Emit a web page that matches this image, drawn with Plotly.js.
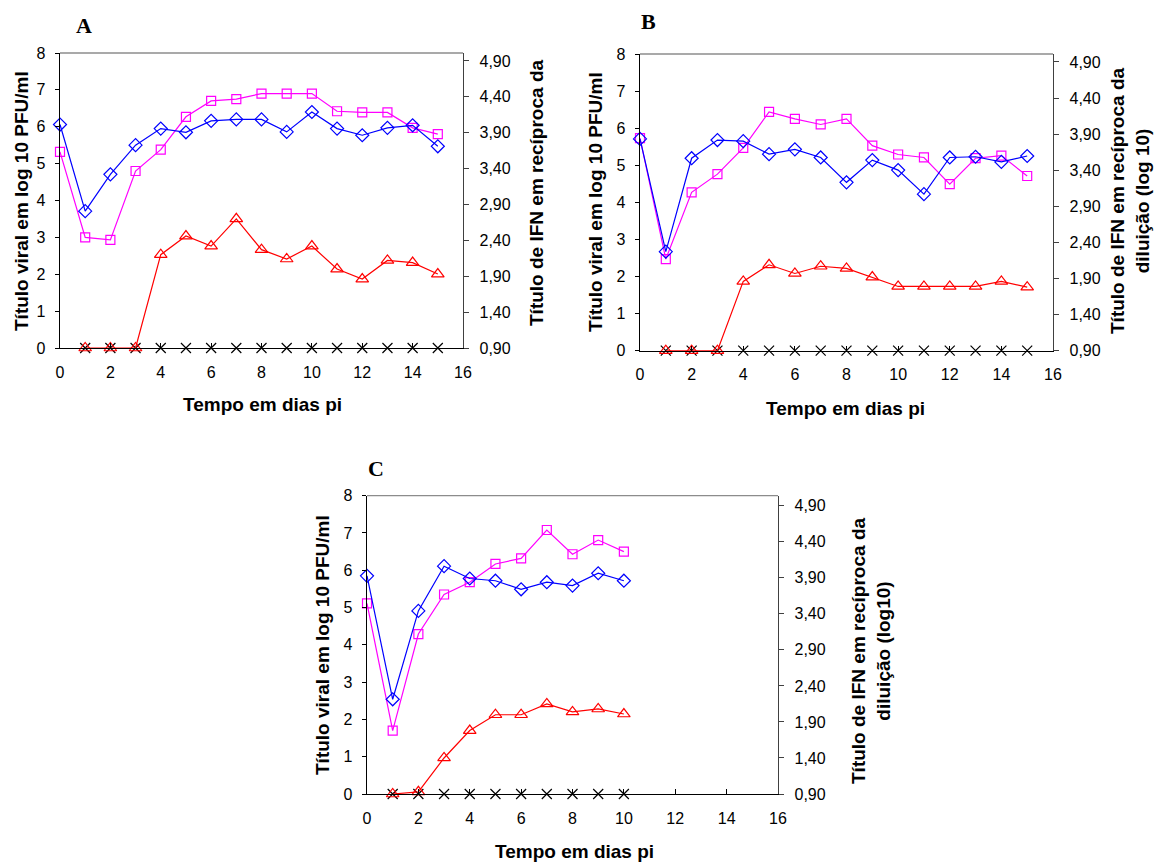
<!DOCTYPE html>
<html>
<head>
<meta charset="utf-8">
<script src="https://cdn.plot.ly/plotly-3.0.1.min.js"></script>
<style>html,body{margin:0;padding:0;background:#fff;}#chart{width:1160px;height:863px;}</style>
</head>
<body>
<div id="chart"></div>
<script>
// ---------- DATA ----------
const daysA = [0,1,2,3,4,5,6,7,8,9,10,11,12,13,14,15];
const blueA = [6.06,3.71,4.71,5.50,5.95,5.85,6.16,6.20,6.20,5.86,6.40,5.95,5.77,5.97,6.04,5.47];
const magA  = [5.32,3.00,2.93,4.80,5.38,6.27,6.70,6.75,6.90,6.90,6.90,6.42,6.39,6.39,5.97,5.80];
const ifnDaysA = [1,2,3,4,5,6,7,8,9,10,11,12,13,14,15];
const ifnA  = [0.90,0.90,0.90,2.20,2.46,2.32,2.70,2.27,2.14,2.32,2.00,1.86,2.12,2.09,1.93];
const ctrlA = [0,0,0,0,0,0,0,0,0,0,0,0,0,0,0];

const daysB = [0,1,2,3,4,5,6,7,8,9,10,11,12,13,14,15];
const blueB = [5.71,2.67,5.19,5.68,5.65,5.30,5.43,5.21,4.54,5.14,4.87,4.22,5.21,5.23,5.09,5.25];
const magB  = [5.73,2.47,4.27,4.76,5.47,6.44,6.25,6.10,6.25,5.53,5.29,5.21,4.49,5.19,5.26,4.71];
const ifnDaysB = [1,2,3,4,5,6,7,8,9,10,11,12,13,14,15];
const ifnB  = [0.90,0.90,0.90,1.86,2.09,1.97,2.07,2.04,1.92,1.79,1.79,1.79,1.79,1.86,1.78];
const ctrlB = [0,0,0,0,0,0,0,0,0,0,0,0,0,0,0];

const daysC = [0,1,2,3,4,5,6,7,8,9,10];
const blueC = [5.85,2.54,4.91,6.11,5.78,5.72,5.49,5.68,5.59,5.92,5.72];
const magC  = [5.11,1.70,4.29,5.35,5.68,6.17,6.32,7.08,6.43,6.81,6.50];
const ifnDaysC = [1,2,3,4,5,6,7,8,9,10];
const ifnC  = [0.90,0.93,1.40,1.78,2.00,2.00,2.15,2.04,2.08,2.01];
const ctrlC = [0,0,0,0,0,0,0,0,0,0];

const xTitle = "Tempo em dias pi";
const yLeftTitle = "Título viral em log 10 PFU/ml";
const yRightTitleA = "Título de IFN em recíproca da";
const yRightTitleB = "Título de IFN em recíproca da<br>diluição (log 10)";
const yRightTitleC = "Título de IFN em recíproca da<br>diluição (log10)";
const panelLabels = ["A","B","C"];

// ---------- LAYOUT HELPERS ----------
const W = 1160, H = 863;
const px = v => v / W;
const py = v => 1 - v / H;

const panels = [
  {x0:60,  x1:463,  yt:53,    yb:348,  y2max:5.01},
  {x0:640, x1:1053, yt:54,    yb:350.7,y2max:5.01},
  {x0:367, x1:778,  yt:495.7, yb:794,  y2max:5.04}
];

const tickFont = {family:"Liberation Sans, Arial, sans-serif", size:16, color:"#000"};
const titleFont = {family:"Liberation Sans, Arial, sans-serif", size:19, color:"#000"};

const BLUE = "#0000ff", MAG = "#ff00ff", RED = "#ff0000";

function series(xs, ys, xa, ya, color, symbol, size, mode) {
  return {
    x: xs, y: ys, xaxis: xa, yaxis: ya, type: "scatter",
    mode: mode || "lines+markers", cliponaxis: false, hoverinfo: "x+y",
    line: {color: color, width: 1.2},
    marker: {symbol: symbol, size: size, color: color, line: {color: color, width: 1.2}}
  };
}

const data = [
  series(ifnDaysA.slice(), ctrlA, "x", "y", "#000", "x-thin-open", 10, "markers"),
  series(ifnDaysA, ifnA, "x", "y2", RED, "triangle-up-open", 11),
  series(daysA, magA, "x", "y", MAG, "square-open", 9),
  series(daysA, blueA, "x", "y", BLUE, "diamond-open", 10),

  series(ifnDaysB.slice(), ctrlB, "x2", "y3", "#000", "x-thin-open", 10, "markers"),
  series(ifnDaysB, ifnB, "x2", "y4", RED, "triangle-up-open", 11),
  series(daysB, magB, "x2", "y3", MAG, "square-open", 9),
  series(daysB, blueB, "x2", "y3", BLUE, "diamond-open", 10),

  series(ifnDaysC.slice(), ctrlC, "x3", "y5", "#000", "x-thin-open", 10, "markers"),
  series(ifnDaysC, ifnC, "x3", "y6", RED, "triangle-up-open", 11),
  series(daysC, magC, "x3", "y5", MAG, "square-open", 9),
  series(daysC, blueC, "x3", "y5", BLUE, "diamond-open", 10)
];

const layout = {
  width: W, height: H, margin: {l:0, r:0, t:0, b:0},
  paper_bgcolor: "#fff", plot_bgcolor: "#fff",
  showlegend: false, separators: ",.",
  font: tickFont,
  shapes: [], annotations: []
};

const xNames = ["xaxis","xaxis2","xaxis3"];
const xIds = ["x","x2","x3"];
const yL = [["yaxis","y"],["yaxis3","y3"],["yaxis5","y5"]];
const yR = [["yaxis2","y2"],["yaxis4","y4"],["yaxis6","y6"]];
const yT = [["yaxis7","y7"],["yaxis8","y8"],["yaxis9","y9"]];

panels.forEach((p, i) => {
  const xd = [px(p.x0), px(p.x1)];
  const yd = [py(p.yb), py(p.yt)];
  layout[xNames[i]] = {
    domain: xd, anchor: yL[i][1], range: [0,16], dtick: 2, tick0: 0,
    showline: true, linecolor: "#000", linewidth: 1.3, zeroline: false, showgrid: false,
    ticks: "inside", ticklen: 5, tickcolor: "#000", tickfont: tickFont, ticklabelstandoff: 9
  };
  layout[yL[i][0]] = {
    domain: yd, anchor: xIds[i], range: [0,8], dtick: 1, tick0: 0,
    showline: true, linecolor: "#000", linewidth: 1.3, zeroline: false, showgrid: false,
    ticks: "outside", ticklen: 4, tickcolor: "#000", tickfont: tickFont, ticklabelstandoff: 6
  };
  layout[yR[i][0]] = {
    overlaying: yL[i][1], side: "right", anchor: xIds[i],
    range: [0.9, p.y2max], tick0: 0.9, dtick: 0.5, tickformat: ".2f",
    showline: true, linecolor: "#404040", linewidth: 1.3, zeroline: false, showgrid: false,
    ticks: "outside", ticklen: 5, tickcolor: "#404040", tickfont: tickFont, ticklabelstandoff: 7
  };
  layout[yT[i][0]] = {
    overlaying: yL[i][1], side: "right", anchor: xIds[i],
    range: [0.9, p.y2max], tick0: 0.9, dtick: 0.5,
    showline: false, zeroline: false, showgrid: false, showticklabels: false,
    ticks: "inside", ticklen: 5, tickcolor: "#404040"
  };
  layout.shapes.push({
    type: "line", xref: "paper", yref: "paper",
    x0: xd[0], x1: xd[1], y0: yd[1], y1: yd[1],
    line: {color: "#8c8c8c", width: 1.3}
  });
});

// axis titles & panel labels (positioned in page pixels)
const ann = (txt, x, y, angle, font) => layout.annotations.push({
  text: txt, xref: "paper", yref: "paper", x: px(x), y: py(y),
  xanchor: "center", yanchor: "middle", showarrow: false, textangle: angle, font: font
});
const bold = t => "<b>" + t + "</b>";
const letterFont = {family: "Liberation Serif, Times New Roman, serif", size: 22, color: "#000"};

ann(bold(yLeftTitle), 21, 201, -90, titleFont);
ann(bold(yLeftTitle), 595, 202, -90, titleFont);
ann(bold(yLeftTitle), 322, 645, -90, titleFont);

ann(bold(yRightTitleA), 537, 193, -90, titleFont);
ann(bold(yRightTitleB), 1130, 201, -90, titleFont);
ann(bold(yRightTitleC), 871, 651, -90, titleFont);

ann(bold(xTitle), 262, 404, 0, titleFont);
ann(bold(xTitle), 845, 408, 0, titleFont);
ann(bold(xTitle), 574, 851, 0, titleFont);

ann(bold(panelLabels[0]), 84, 25, 0, letterFont);
ann(bold(panelLabels[1]), 648, 21, 0, letterFont);
ann(bold(panelLabels[2]), 376, 468, 0, letterFont);

Plotly.newPlot("chart", data, layout, {staticPlot: true, displayModeBar: false});
</script>
</body>
</html>
